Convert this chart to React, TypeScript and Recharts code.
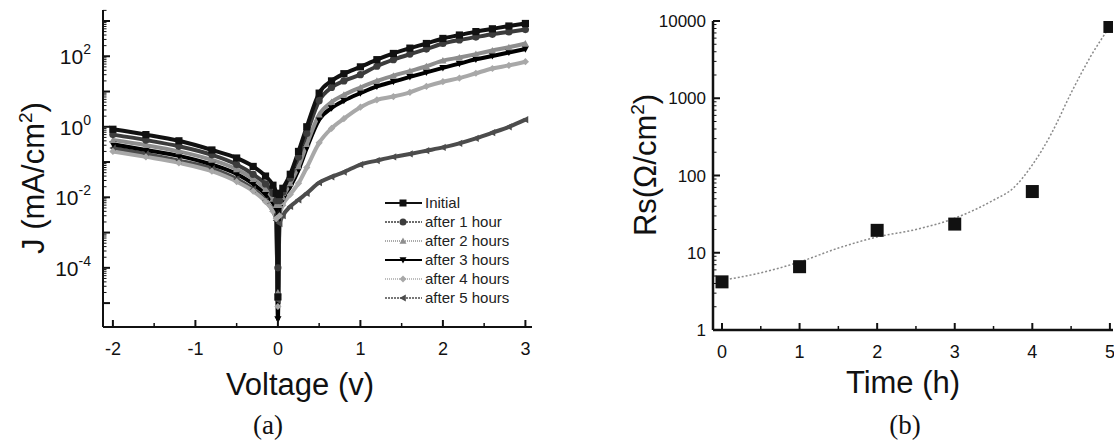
import { ComposedChart, Legend, Line, LineChart, Scatter, XAxis, YAxis } from 'recharts';

const FONT = "'Liberation Sans', Arial, Helvetica, sans-serif";
const INK = '#111';

// (a) J-V curves: voltage (V) and current density (mA/cm2) per ageing time
const VOLTAGE = [-2, -1.6, -1.2, -0.8, -0.5, -0.3, -0.15, -0.06, -0.02, 0, 0.02, 0.06, 0.15, 0.25, 0.35, 0.5, 0.65, 0.8, 1.0, 1.2, 1.4, 1.6, 1.8, 2.0, 2.2, 2.4, 2.6, 2.8, 3.0];
const J_INITIAL = [0.85, 0.6, 0.4, 0.22, 0.13, 0.075, 0.04, 0.022, 0.013, 1.5e-5, 0.012, 0.018, 0.045, 0.2, 1.0, 9, 20, 32, 50, 80, 120, 170, 230, 320, 400, 500, 600, 720, 850];
const J_1H = [0.6, 0.42, 0.28, 0.16, 0.085, 0.045, 0.024, 0.013, 0.008, 1e-4, 0.008, 0.014, 0.035, 0.14, 0.65, 5.5, 13, 20, 30, 52, 80, 115, 160, 230, 290, 350, 420, 490, 570];
const J_2H = [0.42, 0.3, 0.2, 0.115, 0.062, 0.033, 0.017, 0.009, 0.006, 2e-5, 0.006, 0.01, 0.025, 0.075, 0.32, 2.2, 5, 8, 13, 20, 28, 38, 52, 75, 92, 115, 145, 180, 230];
const J_3H = [0.32, 0.22, 0.15, 0.085, 0.046, 0.024, 0.012, 0.007, 0.0045, 3.5e-6, 0.005, 0.009, 0.02, 0.06, 0.25, 1.6, 3.4, 5.5, 9, 14, 19, 26, 35, 47, 62, 82, 102, 128, 160];
const J_4H = [0.2, 0.14, 0.095, 0.055, 0.028, 0.015, 0.0075, 0.004, 0.0025, 8e-6, 0.003, 0.006, 0.012, 0.025, 0.07, 0.35, 0.9, 1.7, 3.6, 5.8, 7.2, 9.5, 14, 19, 24, 33, 45, 55, 70];
const J_5H = [0.25, 0.17, 0.11, 0.065, 0.033, 0.017, 0.008, 0.004, 0.0022, 1.2e-5, 0.0018, 0.003, 0.0055, 0.0085, 0.013, 0.026, 0.038, 0.052, 0.085, 0.11, 0.14, 0.17, 0.21, 0.26, 0.34, 0.47, 0.68, 1.0, 1.6];

const V_TICKS = [-2, -1, 0, 1, 2, 3];
const V_MINOR = [-1.5, -0.5, 0.5, 1.5, 2.5];
const J_LABELED = [1e-4, 1e-2, 1, 100];
const J_DECADES = [1e-5, 1e-4, 1e-3, 1e-2, 1e-1, 1, 10, 100, 1000];

// (b) series resistance vs time, with the fitted guide curve
const TIME_H = [0, 1, 2, 3, 4, 5];
const RS = [4.2, 6.6, 19.5, 23.5, 62, 8500];
const FIT_T = [0, 0.5, 1, 1.5, 2, 2.5, 3, 3.5, 3.75, 4, 4.25, 4.5, 4.75, 5];
const FIT_RS = [4.4, 5.5, 7.6, 11.5, 16, 20, 28, 48, 68, 137, 355, 1170, 3450, 8500];

const T_TICKS = [0, 1, 2, 3, 4, 5];
const T_MINOR = [0.5, 1.5, 2.5, 3.5, 4.5];
const RS_TICKS = [1, 10, 100, 1000, 10000];

const SERIES = [
  { key: 's0', name: 'Initial', values: J_INITIAL, color: '#111', shape: 'square', dash: undefined },
  { key: 's1', name: 'after 1 hour', values: J_1H, color: '#3c3c3c', shape: 'circle', dash: '2 1' },
  { key: 's2', name: 'after 2 hours', values: J_2H, color: '#8e8e8e', shape: 'up', dash: '1 1' },
  { key: 's3', name: 'after 3 hours', values: J_3H, color: '#000', shape: 'down', dash: undefined },
  { key: 's4', name: 'after 4 hours', values: J_4H, color: '#a8a8a8', shape: 'diamond', dash: '1 1' },
  { key: 's5', name: 'after 5 hours', values: J_5H, color: '#4c4c4c', shape: 'left', dash: '2 1' },
];

const ivRows = VOLTAGE.map((v, i) => {
  const row: Record<string, number> = { v };
  SERIES.forEach((s) => { row[s.key] = s.values[i]; });
  return row;
});
const fitRows = FIT_T.map((t, i) => ({ t, fit: FIT_RS[i] }));
const rsRows = TIME_H.map((t, i) => ({ t, rs: RS[i] }));

const logMinor = (decades: number[], lo: number, hi: number) =>
  decades.flatMap((d) => [2, 3, 4, 5, 6, 7, 8, 9].map((m) => m * d)).filter((v) => v > lo && v < hi);

const J_TICKS = [...J_DECADES, ...logMinor(J_DECADES, 2.1e-6, 2050)];
const RS_ALL_TICKS = [...RS_TICKS, ...logMinor([1, 10, 100, 1000], 1, 10000)];

const GAP = 5;

function Marker({ cx, cy, shape, color, r = 3.6 }: any) {
  if (cx == null || cy == null || isNaN(cx) || isNaN(cy)) return null;
  switch (shape) {
    case 'square':
      return <rect x={cx - r} y={cy - r} width={r * 2} height={r * 2} fill={color} />;
    case 'circle':
      return <circle cx={cx} cy={cy} r={r} fill={color} />;
    case 'up':
      return <polygon points={`${cx},${cy - r} ${cx + r},${cy + r * 0.8} ${cx - r},${cy + r * 0.8}`} fill={color} />;
    case 'down':
      return <polygon points={`${cx},${cy + r} ${cx + r},${cy - r * 0.8} ${cx - r},${cy - r * 0.8}`} fill={color} />;
    case 'diamond':
      return <polygon points={`${cx},${cy - r} ${cx + r},${cy} ${cx},${cy + r} ${cx - r},${cy}`} fill={color} />;
    default:
      return <polygon points={`${cx - r},${cy} ${cx + r * 0.8},${cy - r} ${cx + r * 0.8},${cy + r}`} fill={color} />;
  }
}

function JTick({ x, y, payload }: any) {
  const val = payload.value;
  const lg = Math.log10(val);
  const e = Math.round(lg);
  const decade = Math.abs(lg - e) < 1e-6;
  const ax = x + GAP;
  return (
    <g>
      <line x1={ax} x2={ax + (decade ? 7 : 3.5)} y1={y} y2={y} stroke={INK} strokeWidth={decade ? 2 : 1} />
      {J_LABELED.includes(val) && (
        <text x={ax - 12} y={y + 8} textAnchor="end" fontSize={21} fill={INK} fontFamily={FONT}>
          10<tspan dy={-10} fontSize={14}>{e}</tspan>
        </text>
      )}
    </g>
  );
}

function BottomTick({ x, y, payload, labels }: any) {
  const val = payload.value;
  const major = labels.includes(val);
  const ay = y - GAP;
  return (
    <g>
      <line x1={x} x2={x} y1={ay} y2={ay - (major ? 7 : 4)} stroke={INK} strokeWidth={major ? 2 : 1.5} />
      {major && (
        <text x={x} y={ay + 28} textAnchor="middle" fontSize={18} fill={INK} fontFamily={FONT}>
          {val}
        </text>
      )}
    </g>
  );
}

function RsTick({ x, y, payload }: any) {
  const val = payload.value;
  const major = RS_TICKS.includes(val);
  const ax = x + GAP;
  return (
    <g>
      <line x1={ax} x2={ax + (major ? 7 : 3.5)} y1={y} y2={y} stroke={INK} strokeWidth={major ? 2 : 1} />
      {major && (
        <text x={ax - 7} y={y + 6} textAnchor="end" fontSize={17} fill={INK} fontFamily={FONT}>
          {val}
        </text>
      )}
    </g>
  );
}

function IvLegend() {
  return (
    <div style={{ fontFamily: FONT, fontSize: 15, color: '#222' }}>
      {SERIES.map((s) => (
        <div key={s.key} style={{ display: 'flex', alignItems: 'center', height: 19 }}>
          <svg width={40} height={14}>
            <line x1={1} x2={38} y1={7} y2={7} stroke={s.color} strokeWidth={s.dash ? 1.5 : 2} strokeDasharray={s.dash} />
            <Marker cx={19} cy={7} shape={s.shape} color={s.color} r={3.5} />
          </svg>
          <span style={{ marginLeft: 1, whiteSpace: 'nowrap' }}>{s.name}</span>
        </div>
      ))}
    </div>
  );
}

const titleStyle = (left: number, top: number, rotate = false): React.CSSProperties => ({
  position: 'absolute',
  left,
  top,
  fontFamily: FONT,
  fontSize: 31,
  lineHeight: '36px',
  color: INK,
  whiteSpace: 'nowrap',
  transform: `translate(-50%, -50%)${rotate ? ' rotate(-90deg)' : ''}`,
});

const panelStyle = (left: number): React.CSSProperties => ({
  position: 'absolute',
  left,
  top: 425,
  fontFamily: "'Liberation Serif', 'Times New Roman', serif",
  fontSize: 27,
  lineHeight: '30px',
  color: INK,
  transform: 'translate(-50%, -50%)',
});

export default function App() {
  return (
    <div style={{ position: 'absolute', left: 0, top: 0, width: 1114, height: 441, background: '#fff', overflow: 'hidden' }}>
      <div style={{ position: 'absolute', left: 0, top: 0 }}>
        <LineChart width={540} height={441} data={ivRows} margin={{ top: 10, right: 8, bottom: 84, left: 0 }}>
          <XAxis
            dataKey="v"
            type="number"
            domain={[-2.12, 3.08]}
            allowDataOverflow
            ticks={[...V_TICKS, ...V_MINOR]}
            interval={0}
            height={30}
            tickSize={0}
            tickMargin={GAP}
            tickLine={false}
            axisLine={{ stroke: INK, strokeWidth: 2 }}
            tick={<BottomTick labels={V_TICKS} />}
          />
          <XAxis xAxisId="top" orientation="top" type="number" domain={[-2.12, 3.08]} height={0} tick={false} tickLine={false} axisLine={{ stroke: INK, strokeWidth: 2 }} />
          <YAxis
            scale="log"
            type="number"
            domain={[2.1e-6, 2050]}
            allowDataOverflow
            ticks={J_TICKS}
            interval={0}
            width={103}
            tickSize={0}
            tickMargin={GAP}
            tickLine={false}
            axisLine={{ stroke: INK, strokeWidth: 2 }}
            tick={<JTick />}
          />
          <YAxis yAxisId="right" orientation="right" type="number" domain={[0, 1]} width={0} tick={false} tickLine={false} axisLine={{ stroke: INK, strokeWidth: 2 }} />
          <Legend
            layout="horizontal"
            verticalAlign="middle"
            align="center"
            content={() => <IvLegend />}
            wrapperStyle={{ position: 'absolute', left: 384, top: 193, width: 150 }}
          />
          {[...SERIES].reverse().map((s) => (
            <Line
              key={s.key}
              dataKey={s.key}
              name={s.name}
              type="monotone"
              stroke={s.color}
              strokeWidth={4}
              isAnimationActive={false}
              dot={(p: any) => <Marker key={`${s.key}-${p.index}`} cx={p.cx} cy={p.cy} shape={s.shape} color={s.color} />}
              activeDot={false}
            />
          ))}
        </LineChart>
      </div>

      <div style={{ position: 'absolute', left: 600, top: 0 }}>
        <ComposedChart width={514} height={441} margin={{ top: 21, right: 1, bottom: 81, left: 0 }}>
          <XAxis
            dataKey="t"
            type="number"
            domain={[-0.116, 5.04]}
            allowDataOverflow
            ticks={[...T_TICKS, ...T_MINOR]}
            interval={0}
            height={30}
            tickSize={0}
            tickMargin={GAP}
            tickLine={false}
            axisLine={{ stroke: INK, strokeWidth: 2.5 }}
            tick={<BottomTick labels={T_TICKS} />}
          />
          <XAxis xAxisId="top" orientation="top" type="number" domain={[-0.116, 5.04]} height={0} tick={false} tickLine={false} axisLine={{ stroke: '#000', strokeWidth: 3 }} />
          <YAxis
            scale="log"
            type="number"
            domain={[1, 10000]}
            allowDataOverflow
            ticks={RS_ALL_TICKS}
            interval={0}
            width={113}
            tickSize={0}
            tickMargin={GAP}
            tickLine={false}
            axisLine={{ stroke: INK, strokeWidth: 2.5 }}
            tick={<RsTick />}
          />
          <YAxis yAxisId="right" orientation="right" type="number" domain={[0, 1]} width={0} tick={false} tickLine={false} axisLine={{ stroke: '#999', strokeWidth: 1 }} />
          <Line
            data={fitRows}
            dataKey="fit"
            type="monotone"
            stroke="#8a8a8a"
            strokeWidth={1.5}
            strokeDasharray="2 2"
            dot={false}
            activeDot={false}
            isAnimationActive={false}
          />
          <Scatter
            data={rsRows}
            dataKey="rs"
            isAnimationActive={false}
            shape={(p: any) => <rect x={p.cx - 6.5} y={p.cy - 6.5} width={13} height={13} fill={INK} />}
          />
        </ComposedChart>
      </div>

      <div style={titleStyle(30, 178, true)}>
        J (mA/cm<sup style={{ fontSize: 19 }}>2</sup>)
      </div>
      <div style={titleStyle(300, 385)}>Voltage (v)</div>
      <div style={panelStyle(268)}>(a)</div>

      <div style={titleStyle(642, 165, true)}>
        Rs(Ω/cm<sup style={{ fontSize: 19 }}>2</sup>)
      </div>
      <div style={titleStyle(903, 383)}>Time (h)</div>
      <div style={panelStyle(905)}>(b)</div>
    </div>
  );
}
